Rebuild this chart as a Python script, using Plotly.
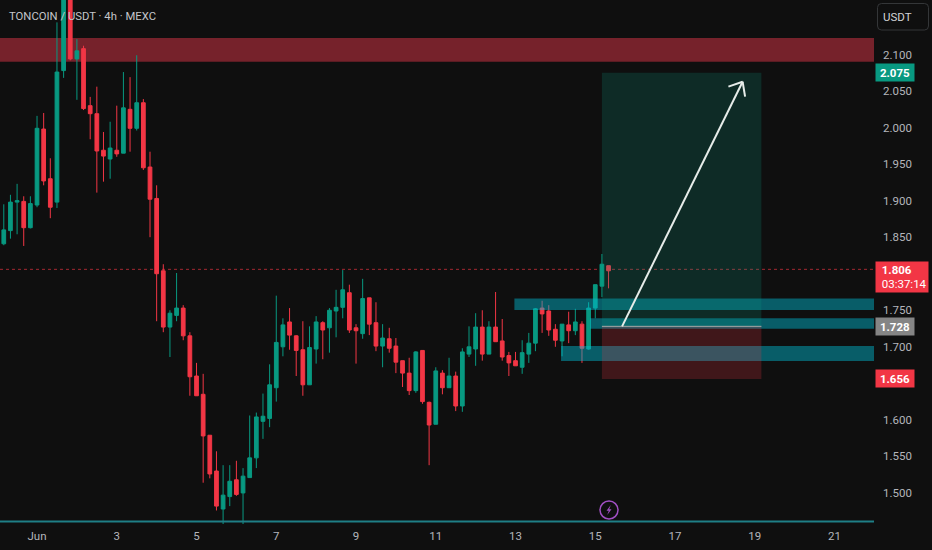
import plotly.graph_objects as go
import pandas as pd

# One row per 4h candle, first candle 2023-05-31 04:00
opens = [1.841,1.859,1.898,1.899,1.863,1.894,1.998,1.930,1.898,2.078,2.190,2.094,2.108,2.030,2.019,1.969,1.957,1.969,1.965,2.025,1.999,2.034,1.946,1.903,
         1.804,1.727,1.743,1.753,1.715,1.660,1.635,1.579,1.530,1.478,1.495,1.518,1.500,1.521,1.548,1.598,1.602,1.644,1.700,1.734,1.715,1.696,1.648,1.697,1.733,1.726,1.749,1.754,1.774,
         1.726,1.718,1.767,1.733,1.701,1.711,1.701,1.681,1.664,1.640,1.695,1.624,1.594,1.664,1.644,1.660,1.619,1.690,1.697,1.727,1.690,1.727,1.708,1.688,1.681,1.672,1.690,1.705,1.753,1.749,1.724,1.708,1.730,1.722,1.731,1.697,1.753,1.783,1.811]
highs = [1.895,1.908,1.923,1.906,1.906,2.016,2.020,1.958,2.144,2.220,2.200,2.121,2.112,2.042,2.056,1.994,2.008,2.030,2.076,2.069,2.099,2.039,1.967,1.921,
         1.813,1.750,1.801,1.757,1.720,1.678,1.663,1.579,1.557,1.538,1.538,1.544,1.534,1.606,1.610,1.636,1.676,1.770,1.739,1.753,1.716,1.735,1.728,1.742,1.735,1.753,1.778,1.805,1.785,
         1.731,1.793,1.767,1.761,1.731,1.726,1.712,1.681,1.685,1.694,1.695,1.625,1.672,1.668,1.685,1.666,1.698,1.728,1.746,1.750,1.735,1.775,1.738,1.693,1.693,1.709,1.719,1.753,1.763,1.757,1.731,1.731,1.748,1.752,1.735,1.761,1.785,1.827,1.811]
lows = [1.839,1.848,1.854,1.838,1.862,1.891,1.921,1.876,1.890,2.068,2.092,2.038,2.024,1.984,1.911,1.926,1.930,1.960,1.965,1.967,1.996,1.942,1.850,1.735,
        1.720,1.686,1.735,1.709,1.633,1.633,1.514,1.520,1.476,1.455,1.482,1.496,1.455,1.521,1.534,1.574,1.590,1.625,1.687,1.696,1.660,1.633,1.648,1.677,1.683,1.692,1.713,1.739,1.719,
        1.677,1.711,1.716,1.694,1.672,1.692,1.664,1.645,1.634,1.637,1.622,1.538,1.594,1.635,1.644,1.612,1.611,1.686,1.674,1.681,1.690,1.707,1.681,1.660,1.674,1.663,1.678,1.694,1.719,1.715,1.700,1.687,1.705,1.716,1.678,1.696,1.739,1.768,1.780]
closes = [1.860,1.898,1.900,1.863,1.896,1.999,1.927,1.891,2.076,2.190,2.094,2.105,2.026,2.019,1.968,1.961,1.972,1.964,2.027,1.999,2.034,1.945,1.902,1.800,
          1.727,1.746,1.753,1.715,1.659,1.633,1.578,1.526,1.482,1.497,1.516,1.498,1.523,1.548,1.604,1.605,1.648,1.706,1.730,1.716,1.695,1.648,1.699,1.734,1.723,1.750,1.754,1.778,1.723,
          1.722,1.766,1.731,1.701,1.712,1.698,1.679,1.664,1.640,1.693,1.625,1.593,1.667,1.644,1.660,1.619,1.693,1.700,1.727,1.690,1.727,1.707,1.686,1.678,1.674,1.692,1.705,1.752,1.745,1.723,1.709,1.731,1.722,1.734,1.698,1.753,1.785,1.813,1.804]
times = pd.date_range("2023-05-31 04:00", periods=len(opens), freq="4h")

tick_dates = ["2023-06-%02d" % d for d in range(1, 22, 2)]
tick_labels = ["Jun", "3", "5", "7", "9", "11", "13", "15", "17", "19", "21"]
price_ticks = [2.10, 2.05, 2.00, 1.95, 1.90, 1.85, 1.75, 1.70, 1.60, 1.55, 1.50]

resistance_zone = [2.0902, 2.1226]
teal_zones = [("2023-06-12 23:20", 1.7504, 1.7660),
              ("2023-06-14 20:53", 1.7248, 1.7390),
              ("2023-06-14 03:24", 1.6806, 1.7011)]
entry, target, stop, last_price, floor_line = 1.728, 2.075, 1.656, 1.806, 1.461
box_start, box_end = "2023-06-15 04:00", "2023-06-19 04:00"
arrow_x = ["2023-06-15 16:08", "2023-06-18 16:41", "2023-06-18 08:08", "2023-06-18 18:11"]
arrow_y = [1.728, 2.0628, 2.0560, 2.0423]

X0, X1 = "2023-05-31 01:43", "2023-06-21 23:46"
Y0, Y1 = 1.4575, 2.1746
BG = "#0f0f0f"; GREEN = "#089981"; RED = "#f23645"; TXT = "#b4b6bb"
PW, PH = 874, 524
FONT = "Roboto"

def px(x): return x / PW
def py(y): return 1 - y / PH

fig = go.Figure(go.Candlestick(
    x=times, open=opens, high=highs, low=lows, close=closes,
    increasing=dict(line=dict(color=GREEN, width=1), fillcolor=GREEN),
    decreasing=dict(line=dict(color=RED, width=1), fillcolor=RED),
    whiskerwidth=0, showlegend=False, hoverinfo="skip"))

shapes = [
    dict(type="rect", xref="paper", x0=0, x1=1, yref="y", y0=resistance_zone[0], y1=resistance_zone[1],
         fillcolor="#76222b", line_width=0, layer="below"),
    dict(type="line", xref="paper", x0=0, x1=1, yref="y", y0=last_price, y1=last_price,
         line=dict(color="rgba(242,54,69,0.65)", width=1, dash="dot"), layer="below"),
    dict(type="line", xref="paper", x0=0, x1=1, yref="y", y0=floor_line, y1=floor_line,
         line=dict(color="#1f7f86", width=2), layer="above"),
]
for start, lo, hi in teal_zones:
    shapes.append(dict(type="rect", x0=start, x1=X1, y0=lo, y1=hi,
                       fillcolor="rgba(0,188,212,0.45)", line_width=0, layer="above"))
shapes += [
    dict(type="rect", x0=box_start, x1=box_end, y0=entry, y1=target,
         fillcolor="rgba(8,153,129,0.2)", line_width=0, layer="above"),
    dict(type="rect", x0=box_start, x1=box_end, y0=stop, y1=entry,
         fillcolor="rgba(242,54,69,0.22)", line_width=0, layer="above"),
    dict(type="line", x0=box_start, x1=box_end, y0=entry, y1=entry,
         line=dict(color="#a8a8a8", width=1), layer="above"),
]
ARW = dict(color="#e6ece9", width=2)
shapes += [
    dict(type="line", x0=arrow_x[0], y0=arrow_y[0], x1=arrow_x[1], y1=arrow_y[1], line=ARW, layer="above"),
    dict(type="line", x0=arrow_x[2], y0=arrow_y[2], x1=arrow_x[1], y1=arrow_y[1], line=ARW, layer="above"),
    dict(type="line", x0=arrow_x[3], y0=arrow_y[3], x1=arrow_x[1], y1=arrow_y[1], line=ARW, layer="above"),
]
# USDT button
bx0, bx1, by0, by1, r = 877.5, 928.5, 3.5, 30, 4
shapes.append(dict(type="path", xref="paper", yref="paper", layer="above",
    path=f"M {px(bx0+r)} {py(by0)} L {px(bx1-r)} {py(by0)} Q {px(bx1)} {py(by0)} {px(bx1)} {py(by0+r)} "
         f"L {px(bx1)} {py(by1-r)} Q {px(bx1)} {py(by1)} {px(bx1-r)} {py(by1)} "
         f"L {px(bx0+r)} {py(by1)} Q {px(bx0)} {py(by1)} {px(bx0)} {py(by1-r)} "
         f"L {px(bx0)} {py(by0+r)} Q {px(bx0)} {py(by0)} {px(bx0+r)} {py(by0)} Z",
    line=dict(color="#343638", width=1)))
# event icon
cx, cy, cr = 609, 510, 9
PURPLE = "#a04fc2"
shapes.append(dict(type="circle", xref="paper", yref="paper", x0=px(cx-cr), x1=px(cx+cr), y0=py(cy+cr), y1=py(cy-cr),
                   line=dict(color=PURPLE, width=1.5), fillcolor=BG, layer="above"))
bolt = [(1.8,-5),(-2.5,0.8),(-0.2,0.8),(-1.8,5),(2.5,-0.8),(0.2,-0.8)]
shapes.append(dict(type="path", xref="paper", yref="paper", layer="above", line_width=0, fillcolor=PURPLE,
    path="M " + " L ".join(f"{px(cx+a)} {py(cy+b)}" for a, b in bolt) + " Z"))

def tag(y, text, bg, w=38, h=17, align="center"):
    return dict(xref="paper", yref="y", x=px(875), y=y, xanchor="left", yanchor="middle", text=text,
                showarrow=False, bgcolor=bg, width=w, height=h, align=align, borderpad=0,
                font=dict(family=FONT, size=11.5, color="#ffffff"))

annotations = [
    dict(xref="paper", yref="paper", x=px(7), y=py(16.5), xanchor="left", yanchor="middle",
         text="TONCOIN / USDT · 4h · MEXC", showarrow=False,
         font=dict(family=FONT, size=11.3, color="#c4c6ca")),
    dict(xref="paper", yref="paper", x=px(897.5), y=py(17), xanchor="center", yanchor="middle",
         text="USDT", showarrow=False, font=dict(family=FONT, size=11.5, color="#d2d3d6")),
    tag(target, "<b>2.075</b>", GREEN),
    tag(1.7949, "\u00a0\u00a0<b>1.806</b><br>\u00a0\u00a003:37:14", RED, w=52, h=30, align="left"),
    tag(entry, "<b>1.728</b>", "#858585"),
    tag(stop, "<b>1.656</b>", RED),
]

fig.update_layout(
    width=932, height=550, autosize=False,
    margin=dict(l=0, r=932-PW, t=0, b=550-PH, pad=0),
    paper_bgcolor=BG, plot_bgcolor=BG, showlegend=False, boxgap=0.2,
    xaxis=dict(type="date", range=[X0, X1], showgrid=False, zeroline=False, showline=False,
               rangeslider=dict(visible=False), tickmode="array", tickvals=tick_dates, ticktext=tick_labels,
               ticks="", ticklabelstandoff=3, tickfont=dict(family=FONT, size=11.5, color=TXT)),
    yaxis=dict(side="right", range=[Y0, Y1], showgrid=False, zeroline=False, showline=False,
               tickmode="array", tickvals=price_ticks, ticktext=["%.3f" % p for p in price_ticks],
               ticks="", ticklabelstandoff=8, tickfont=dict(family=FONT, size=11.5, color=TXT)),
    shapes=shapes, annotations=annotations)
fig.write_html("out.html", config=dict(displayModeBar=False),
               post_script="document.body.style.margin='0';document.body.style.background='#0f0f0f';")
